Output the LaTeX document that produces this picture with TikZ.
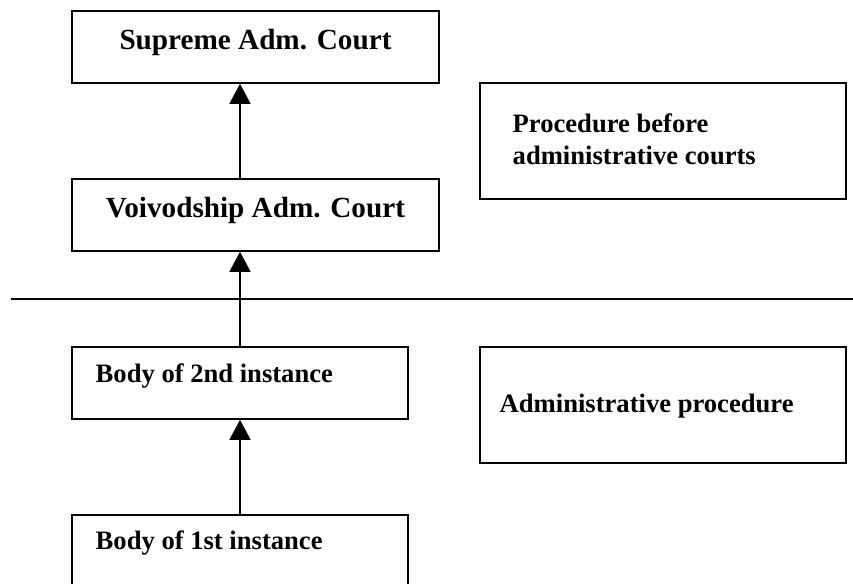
\documentclass[tikz,border=0pt]{standalone}
\usepackage{fontspec}
\setmainfont{Liberation Serif}
\usetikzlibrary{arrows.meta,calc}

\begin{document}
\begin{tikzpicture}[x=1pt,y=-1pt,
    box/.style={draw,line width=1.6pt,rectangle,inner sep=0pt},
    up/.style={line width=1.6pt,-{Triangle[width=21pt,length=20pt]}},
    bigtxt/.style={font=\fontsize{29.2}{33}\selectfont\bfseries},
    smalltxt/.style={font=\fontsize{26.6}{32}\selectfont\bfseries,align=left}]
    \useasboundingbox (0,0) rectangle (853,583);
    % courts
    \node[box,minimum width=367pt,minimum height=72pt] (S) at (255.5,47) {};
    \node[box,minimum width=367pt,minimum height=72pt] (V) at (255.5,215) {};
    \node[bigtxt,anchor=base] (tS) at ($(S.north)+(0,39)$) {Supreme Adm. Court};
    \node[bigtxt,anchor=base] (tV) at ($(V.north)+(0,39)$) {Voivodship Adm. Court};
    % bodies
    \node[box,minimum width=336pt,minimum height=72pt] (B2) at (240,383) {};
    \node[box,minimum width=336pt,minimum height=90pt] (B1) at (240,560) {};
    \node[smalltxt,anchor=base west] (tB2) at ($(B2.north west)+(21,36)$) {Body of 2nd instance};
    \node[smalltxt,anchor=base west] (tB1) at ($(B1.north west)+(21,35)$) {Body of 1st instance};
    % procedures
    \node[box,minimum width=366pt,minimum height=116pt] (P) at (663,141) {};
    \node[box,minimum width=366pt,minimum height=116pt] (A) at (663,405) {};
    \node[smalltxt,anchor=base west] (tP) at ($(P.north west)+(30,82)$) {Procedure before\\administrative courts};
    \node[smalltxt,anchor=base west] (tA) at ($(A.north west)+(17,66)$) {Administrative procedure};
    % dividing line
    \coordinate (L) at (11,299);
    \coordinate (R) at (853,299);
    \draw[line width=1.6pt] (L) -- (R);
    % appeals
    \draw[up] (B1.north) -- (B2.south);
    \draw[up] (B2.north) -- (V.south -| B2.north);
    \draw[up] (V.north -| B2.north) -- (S.south -| B2.north);
\end{tikzpicture}
\end{document}
